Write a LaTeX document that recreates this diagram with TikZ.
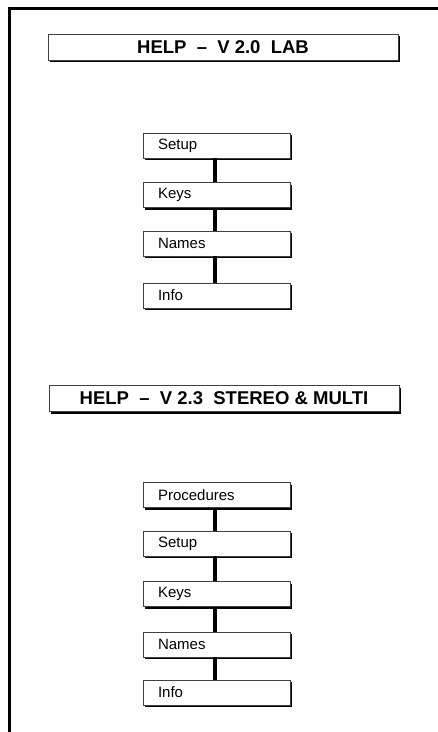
\documentclass[tikz,border=0pt]{standalone}
\usepackage{fontspec}
\setmainfont{Liberation Sans}
\usetikzlibrary{shadows}
\tikzset{
  shadowbox/.style={draw=black!75, line width=0.8pt, fill=white,
    drop shadow={shadow xshift=2.2pt, shadow yshift=-2.2pt, opacity=1, fill=black}},
  itembox/.style={shadowbox, minimum width=147pt, minimum height=25pt,
    inner xsep=15pt, inner ysep=0pt, text width=117pt, align=left,
    font=\fontsize{15}{18}\selectfont},
  titlebox/.style={shadowbox, minimum width=350pt, minimum height=26pt,
    inner sep=0pt, font=\bfseries\fontsize{18.5}{22}\selectfont},
  link/.style={line width=4pt},
  frameline/.style={line width=2.6pt}
}
\begin{document}
\begin{tikzpicture}[x=1pt,y=-1pt]
\useasboundingbox (0,0) rectangle (438,732);
\fill[white] (0,0) rectangle (438,732);
\draw[frameline] (9.5,732) -- (9.5,8.5) -- (438,8.5);

\node[titlebox] (t1) at (223,47) {HELP\ \ –\ \ V 2.0\ \ LAB};

\node[itembox] (s1) at (216.5,145.5) {Setup};
\node[itembox] (k1) at (216.5,195) {Keys};
\node[itembox] (n1) at (216.5,243.5) {Names};
\node[itembox] (i1) at (216.5,295.5) {Info};

\node[titlebox] (t2) at (224,398.5) {HELP\ \ –\ \ V 2.3\ \ STEREO \& MULTI};

\node[itembox] (p2) at (216.5,495) {Procedures};
\node[itembox] (s2) at (216.5,543.5) {Setup};
\node[itembox] (k2) at (216.5,594) {Keys};
\node[itembox] (n2) at (216.5,644.5) {Names};
\node[itembox] (i2) at (216.5,692.5) {Info};

\foreach \a/\b in {s1/k1,k1/n1,n1/i1,p2/s2,s2/k2,k2/n2,n2/i2}{
  \draw[link] ([xshift=-1.5pt]\a.south) -- ([xshift=-1.5pt]\b.north);
}
\end{tikzpicture}
\end{document}
